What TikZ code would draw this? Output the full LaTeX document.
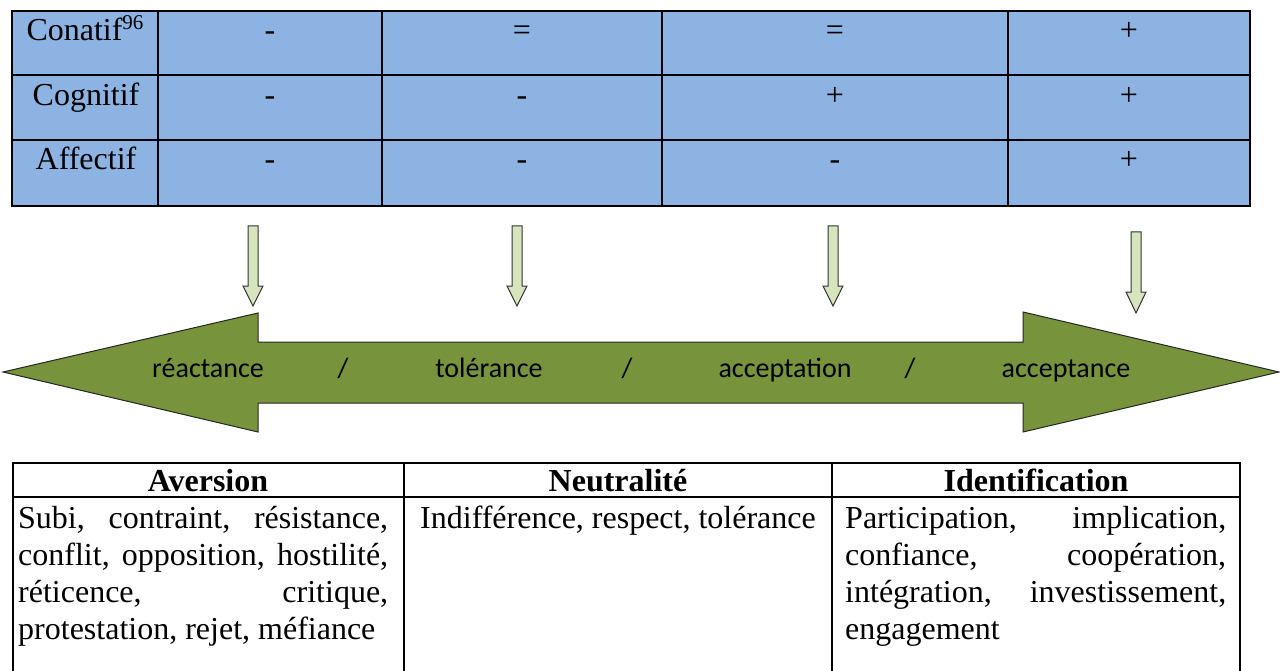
\documentclass[tikz,border=0pt]{standalone}
\usepackage{fontspec}
\setmainfont{Liberation Serif}
\newfontfamily\calib{Carlito}
\definecolor{cellblue}{RGB}{141,179,226}
\definecolor{olive}{RGB}{119,147,60}
\definecolor{palegreen}{RGB}{215,228,189}
\begin{document}
\begin{tikzpicture}[x=1pt,y=-1pt,
  tt/.style={font=\fontsize{32}{36}\selectfont, inner sep=0pt, anchor=base},
  bt/.style={font=\fontsize{32}{36}\selectfont, inner sep=0pt, anchor=base west},
  hd/.style={font=\fontsize{32}{36}\selectfont\bfseries, inner sep=0pt, anchor=base},
  lab/.style={font=\calib\fontsize{28}{32}\selectfont, inner sep=0pt, anchor=base},
  smallarr/.style={fill=palegreen, draw=black!80, line width=1pt, line join=miter},
  bigarr/.style={fill=olive, draw=black!85, line width=1pt, line join=miter}]
\useasboundingbox (0,0) rectangle (1280,671);
% ---------- top table ----------
\fill[cellblue] (12,11) rectangle (1250,206);
\draw[line width=2pt] (12,11) rectangle (1250,206);
\foreach \y in {75,140} \draw[line width=2pt] (12,\y) -- (1250,\y);
\foreach \x in {158,382,662,1008} \draw[line width=2pt] (\x,11) -- (\x,206);
\node[tt] (r1) at (85,41) {Conatif\raisebox{11pt}{\fontsize{21}{24}\selectfont 96}};
\node[tt] (r2) at (86,106) {Cognitif};
\node[tt] (r3) at (86,170) {Affectif};
\node[tt] (a1) at (270,41) {-};
\node[tt] (a2) at (522,41) {=};
\node[tt] (a3) at (835,41) {=};
\node[tt] (a4) at (1129,41) {+};
\node[tt] (b1) at (270,106) {-};
\node[tt] (b2) at (522,106) {-};
\node[tt] (b3) at (835,106) {+};
\node[tt] (b4) at (1129,106) {+};
\node[tt] (c1) at (270,170) {-};
\node[tt] (c2) at (522,170) {-};
\node[tt] (c3) at (835,170) {-};
\node[tt] (c4) at (1129,170) {+};
% ---------- small down arrows ----------
\foreach \cx/\t/\h/\p in {253/226/286/306, 517/226/286/306, 833/226/286/306, 1136/232/292/313}{
  \draw[smallarr] (\cx-5,\t) -- (\cx+5,\t) -- (\cx+5,\h) -- (\cx+10,\h) -- (\cx,\p)
     -- (\cx-10,\h) -- (\cx-5,\h) -- cycle;
}
% ---------- big double arrow ----------
\draw[bigarr] (3,372) -- (258,313) -- (258,342) -- (1023,342) -- (1023,312) -- (1279,372)
  -- (1023,432) -- (1023,403) -- (258,403) -- (258,432) -- cycle;
\node[lab] (l1) at (208,377) {réactance};
\node[lab] (s1) at (343,377) {/};
\node[lab] (l2) at (489,377) {tolérance};
\node[lab] (s2) at (627,377) {/};
\node[lab] (l3) at (785,377) {acceptation};
\node[lab] (s3) at (910,377) {/};
\node[lab] (l4) at (1066,377) {acceptance};
% ---------- bottom table ----------
\draw[line width=1.5pt] (13,671) -- (13,463) -- (1240,463) -- (1240,671);
\draw[line width=1.5pt] (13,497) -- (1240,497);
\foreach \x in {404,832} \draw[line width=1.5pt] (\x,463) -- (\x,671);
\node[hd] (h1) at (208,491) {Aversion};
\node[hd] (h2) at (618,491) {Neutralité};
\node[hd] (h3) at (1036,491) {Identification};
\node[bt] (p1) at (18,528) {\makebox[370pt][s]{Subi, contraint, résistance,}};
\node[bt] (p2) at (18,565) {\makebox[370pt][s]{conflit, opposition, hostilité,}};
\node[bt] (p3) at (18,602) {\makebox[370pt][s]{réticence, critique,}};
\node[bt] (p4) at (18,639) {protestation, rejet, méfiance};
\node[bt] (q1) at (420,528) {Indifférence, respect, tolérance};
\node[bt] (k1) at (845,528) {\makebox[381pt][s]{Participation, implication,}};
\node[bt] (k2) at (845,565) {\makebox[381pt][s]{confiance, coopération,}};
\node[bt] (k3) at (845,602) {\makebox[381pt][s]{intégration, investissement,}};
\node[bt] (k4) at (845,639) {engagement};
\end{tikzpicture}
\end{document}
